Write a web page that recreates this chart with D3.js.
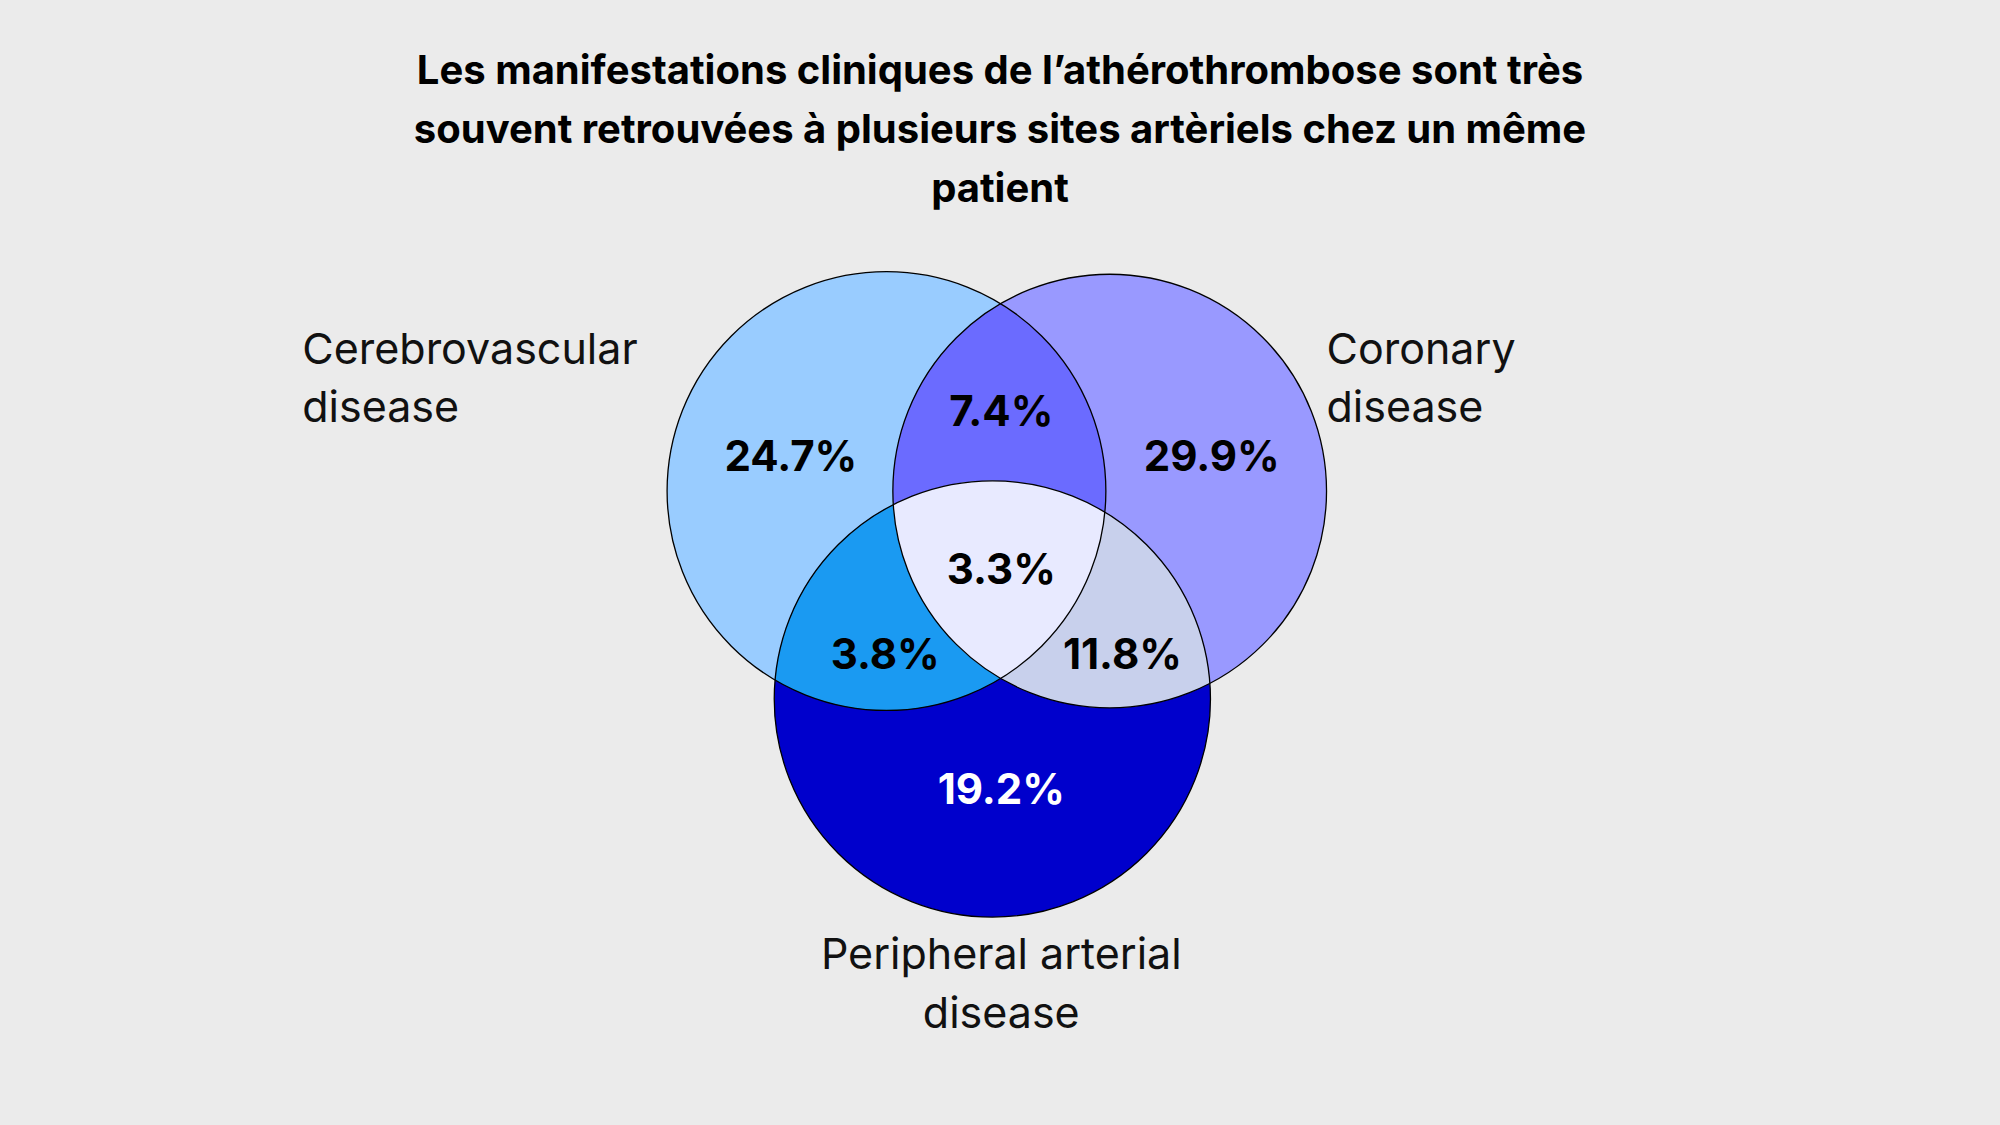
<!DOCTYPE html>
<html><head><meta charset="utf-8">
<script src="https://cdn.jsdelivr.net/npm/d3@7"></script>
<style>body{margin:0;background:#ebebeb}svg{display:block}</style>
</head><body><svg id="chart"></svg>
<script>
// sets: name, centre and radius in reference units
var sets = ['Cerebrovascular disease', 'Coronary disease', 'Peripheral arterial disease'];
var setCx = [695, 870, 778];
var setCy = [385, 385, 548];
var setR = [172, 170, 171];
var setFill = ['#99ccff', '#9999ff', '#0000cc'];
// regions: which sets each region belongs to
var regionSets = [[0], [1], [2], [0, 1], [0, 2], [1, 2], [0, 1, 2]];
var regionValues = ['24.7%', '29.9%', '19.2%', '7.4%', '3.8%', '11.8%', '3.3%'];
var regionFill = [null, null, null, '#6b6bff', '#1a9af2', '#c8d0ec', '#e8eaff'];
var regionLabelX = [620, 950, 785, 785, 694, 880, 785];
var regionLabelY = [357, 357, 618, 322, 512, 512, 446];
var labelLines = [['Cerebrovascular', 'disease'], ['Coronary', 'disease'], ['Peripheral arterial', 'disease']];
var labelX = [237, 1040, 785];
var labelY = [285, 285, 760];
var labelAnchor = ['start', 'start', 'middle'];
var titleLines = ['Les manifestations cliniques de l\u2019athérothrombose sont très',
  'souvent retrouvées à plusieurs sites artèriels chez un même', 'patient'];

var W = 2000, H = 1125;
var sx = d3.scaleLinear().domain([0, 1568]).range([0, W]);
var sy = d3.scaleLinear().domain([0, 882]).range([0, H]);
var sr = d3.scaleLinear().domain([0, 1568]).range([0, W]);

var svg = d3.select('#chart').attr('width', W).attr('height', H);
svg.append('rect').attr('width', W).attr('height', H).attr('fill', '#ebebeb');
var font = 'Inter, "Noto Sans", sans-serif';

var defs = svg.append('defs');
sets.forEach(function (s, i) {
  defs.append('clipPath').attr('id', 'clip' + i).append('circle')
    .attr('cx', sx(setCx[i])).attr('cy', sy(setCy[i])).attr('r', sr(setR[i]));
});

// base circles
svg.selectAll('circle.base').data(sets).enter().append('circle')
  .attr('class', 'base')
  .attr('cx', function (d, i) { return sx(setCx[i]); })
  .attr('cy', function (d, i) { return sy(setCy[i]); })
  .attr('r', function (d, i) { return sr(setR[i]); })
  .attr('fill', function (d, i) { return setFill[i]; });

// intersections: circle of first other set clipped by nested groups
regionSets.forEach(function (rs, k) {
  if (rs.length < 2) return;
  var g = svg;
  for (var j = 1; j < rs.length; j++) g = g.append('g').attr('clip-path', 'url(#clip' + rs[j] + ')');
  var i = rs[0];
  g.append('circle').attr('cx', sx(setCx[i])).attr('cy', sy(setCy[i])).attr('r', sr(setR[i]))
    .attr('fill', regionFill[k]);
});

// outlines
svg.selectAll('circle.edge').data(sets).enter().append('circle')
  .attr('cx', function (d, i) { return sx(setCx[i]); })
  .attr('cy', function (d, i) { return sy(setCy[i]); })
  .attr('r', function (d, i) { return sr(setR[i]); })
  .attr('fill', 'none').attr('stroke', '#000').attr('stroke-width', 1.3);

svg.selectAll('text.val').data(regionValues).enter().append('text')
  .attr('x', function (d, i) { return sx(regionLabelX[i]); })
  .attr('y', function (d, i) { return sy(regionLabelY[i]); })
  .attr('text-anchor', 'middle').attr('dominant-baseline', 'central')
  .attr('font-family', font).attr('font-weight', 700).attr('font-size', 42)
  .attr('fill', function (d, i) { return i === 2 ? '#fff' : '#000'; })
  .text(function (d) { return d; });

labelLines.forEach(function (lines, i) {
  lines.forEach(function (t, j) {
    svg.append('text').attr('x', sx(labelX[i])).attr('y', sy(labelY[i] + j * 46))
      .attr('text-anchor', labelAnchor[i]).attr('font-family', font).attr('font-size', 43)
      .attr('fill', '#111').text(t);
  });
});

titleLines.forEach(function (t, j) {
  svg.append('text').attr('x', sx(784)).attr('y', sy(66 + j * 46))
    .attr('text-anchor', 'middle').attr('font-family', font).attr('font-weight', 700)
    .attr('font-size', 40).attr('fill', '#000').text(t);
});
</script></body></html>
